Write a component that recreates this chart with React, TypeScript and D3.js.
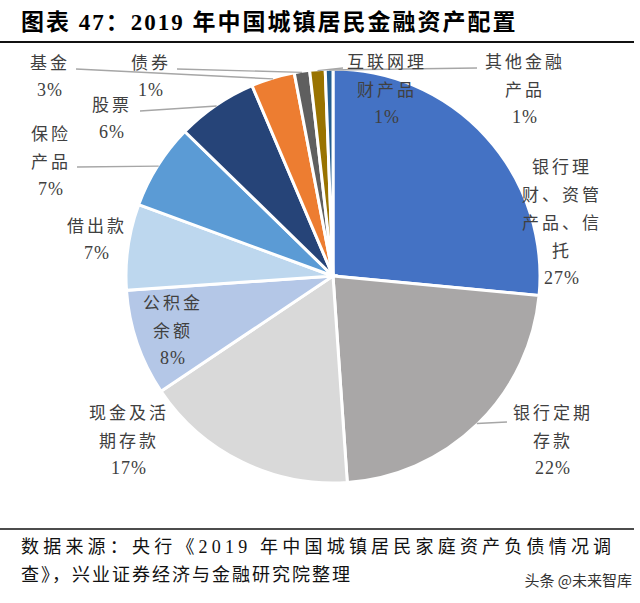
import * as d3 from "d3";

const W = 640;
const H = 603;

// chart data (share of urban household financial assets, %)
const categories = [
  "银行理财、资管产品、信托",
  "银行定期存款",
  "现金及活期存款",
  "公积金余额",
  "借出款",
  "保险产品",
  "股票",
  "基金",
  "债券",
  "互联网理财产品",
  "其他金融产品",
];
const values = [26.5, 22.4, 16.7, 8.3, 6.7, 6.7, 6.3, 3.4, 1.2, 1.2, 0.6];
const palette = [
  "#4472C4", "#A9A7A7", "#D9D9D9", "#B4C7E7", "#BDD7EE", "#5B9BD5",
  "#264478", "#ED7D31", "#5F5F5F", "#997300", "#255E91",
];

const TITLE = "图表 47：2019 年中国城镇居民金融资产配置";
const SOURCE_1 = "数据来源：央行《2019 年中国城镇居民家庭资产负债情况调";
const SOURCE_2 = "查》，兴业证券经济与金融研究院整理";

// label layout: centre x, first row centre y, characters per row, leader end
const labelLayout = [
  {x: 562, y: 167, rows: [3, 4, 4, 1]},
  {x: 553, y: 413, rows: [4, 2], leader: [507, 422]},
  {x: 129, y: 413, rows: [4, 3]},
  {x: 173, y: 303, rows: [3, 2]},
  {x: 97, y: 226, rows: [3]},
  {x: 51, y: 134, rows: [2, 2], leader: [77, 167]},
  {x: 112, y: 105, rows: [2], leader: [140, 111]},
  {x: 50, y: 63, rows: [2], leader: [76, 69]},
  {x: 151, y: 63, rows: [2], leader: [177, 69]},
  {x: 387, y: 62, rows: [4, 3], leader: [343, 68]},
  {x: 525, y: 62, rows: [4, 2], leader: [477, 68]},
];

const CX = 333;
const CY = 276;
const R = 207;
const ROW = 28;

const splitRows = (s: string, rows: number[]) => {
  const out: string[] = [];
  let i = 0;
  rows.forEach((n) => {
    out.push(s.slice(i, i + n));
    i += n;
  });
  return out;
};

const App = () => {
  const pie = d3.pie<number>().sort(null).value((d) => d);
  const slices = pie(values);
  const arc = d3.arc<d3.PieArcDatum<number>>().innerRadius(0).outerRadius(R);

  return (
    <div style={{position: "absolute", left: 0, top: 0}}>
      <svg width={W} height={H} style={{display: "block", background: "#fff"}}>
        {/* title */}
        <text x={21} y={30}
              style={{fontFamily: "'Liberation Serif', 'Noto Sans CJK SC'", fontWeight: 700, fontSize: 23, letterSpacing: 2, fill: "#000"}}>
          {TITLE}
        </text>
        <line x1={0} x2={634} y1={42} y2={42} stroke="#111" strokeWidth={2}/>

        <g transform={`translate(${CX},${CY})`}>
          {slices.map((s, i) => (
            <path key={i} d={arc(s) || ""} fill={palette[i]} stroke="#fff" strokeWidth={3}/>
          ))}
        </g>

        {/* leader lines */}
        {slices.map((s, i) => {
          const lay = labelLayout[i];
          if (!lay.leader) return null;
          const a = (s.startAngle + s.endAngle) / 2;
          const x0 = CX + Math.sin(a) * (R - 1);
          const y0 = CY - Math.cos(a) * (R - 1);
          return (
            <line key={i} x1={x0} y1={y0} x2={lay.leader[0]} y2={lay.leader[1]}
                  stroke="#A6A6A6" strokeWidth={1.4}/>
          );
        })}

        {/* labels */}
        {categories.map((c, i) => {
          const lay = labelLayout[i];
          const rows = splitRows(c, lay.rows);
          return (
            <g key={i} style={{fill: "#404040"}}>
              {rows.map((r, j) => (
                <text key={j} x={lay.x} y={lay.y + j * ROW} dy="0.36em" textAnchor="middle"
                      style={{fontFamily: "'Noto Sans CJK SC'", fontSize: 17, letterSpacing: 3}}>
                  {r}
                </text>
              ))}
              <text x={lay.x} y={lay.y + rows.length * ROW - 1} dy="0.36em" textAnchor="middle"
                    style={{fontFamily: "'Liberation Serif'", fontSize: 18, letterSpacing: 1}}>
                {Math.round(values[i]) + "%"}
              </text>
            </g>
          );
        })}

        {/* source */}
        <line x1={0} x2={634} y1={529} y2={529} stroke="#111" strokeWidth={1.5}/>
        <text x={21} y={553}
              style={{fontFamily: "'Liberation Serif', 'Noto Sans CJK SC'", fontSize: 18, letterSpacing: 4.2, fill: "#111"}}>
          {SOURCE_1}
        </text>
        <text x={21} y={581}
              style={{fontFamily: "'Liberation Serif', 'Noto Sans CJK SC'", fontSize: 18, letterSpacing: 2, fill: "#111"}}>
          {SOURCE_2}
        </text>
        <text x={632} y={586} textAnchor="end"
              style={{fontFamily: "'Noto Sans CJK SC'", fontSize: 15, fill: "#333"}}>
          头条 @未来智库
        </text>
      </svg>
    </div>
  );
};

export default App;
